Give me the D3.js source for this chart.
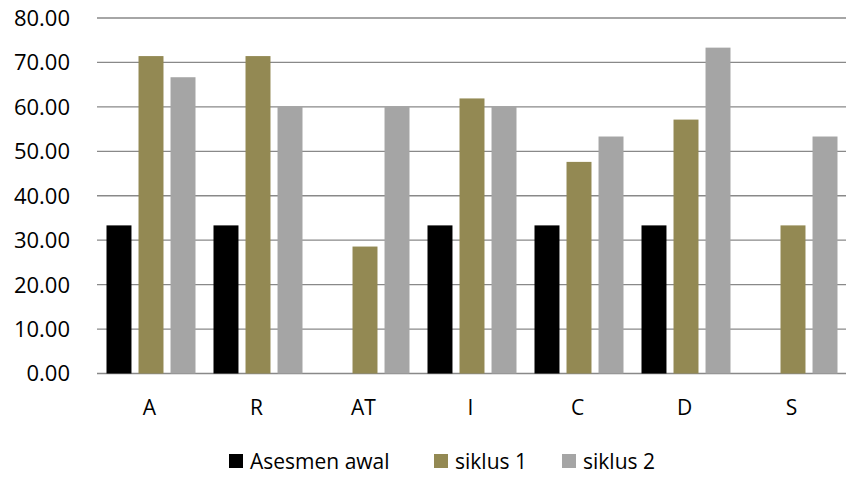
<!DOCTYPE html>
<html>
<head>
<meta charset="utf-8">
<script src="https://cdn.jsdelivr.net/npm/d3@7"></script>
<style>
  body { margin: 0; background: #fff; }
  text { font-family: "Open Sans", sans-serif; fill: #000; }
</style>
</head>
<body>
<div id="chart"></div>
<script>
var categories = ["A", "R", "AT", "I", "C", "D", "S"];
var seriesNames = ["Asesmen awal", "siklus 1", "siklus 2"];
var asesmenAwal = [33.33, 33.33, 0, 33.33, 33.33, 33.33, 0];
var siklus1 = [71.43, 71.43, 28.57, 61.90, 47.62, 57.14, 33.33];
var siklus2 = [66.67, 60.00, 60.00, 60.00, 53.33, 73.33, 53.33];
var yTicks = [0, 10, 20, 30, 40, 50, 60, 70, 80];
var colors = ["#000000", "#938953", "#a5a5a5"];

var allSeries = [asesmenAwal, siklus1, siklus2];

function draw_chart(element) {
    var svg = d3.select("#" + element).append("svg").attr("width", 846).attr("height", 477),
        margin = {top: 18, right: 0, bottom: 104, left: 97},
        width = +svg.attr("width") - margin.left - margin.right,
        height = +svg.attr("height") - margin.top - margin.bottom;

    var x0 = d3.scaleBand().domain(categories).range([0, width]);
    var x1 = d3.scaleBand().domain(seriesNames).range([9.5, 98.5]).paddingInner(0.22);
    var y = d3.scaleLinear().domain([0, 80]).range([height + 0.5, 0]);

    var g = svg.append("g")
        .attr("transform", "translate(" + margin.left + "," + margin.top + ")");

    // gridlines
    g.append("g")
        .selectAll("line")
        .data(yTicks)
        .enter().append("line")
        .attr("x1", 0)
        .attr("x2", width)
        .attr("y1", function (d) { return y(d); })
        .attr("y2", function (d) { return y(d); })
        .attr("stroke", "#898989")
        .attr("stroke-width", 1.3);

    // y labels
    g.append("g")
        .selectAll("text")
        .data(yTicks)
        .enter().append("text")
        .attr("x", -27)
        .attr("y", function (d) { return y(d); })
        .attr("dy", "0.36em")
        .attr("text-anchor", "end")
        .style("font-size", "22px")
        .text(function (d) { return d.toFixed(2); });

    // bars
    var groups = g.selectAll(".gr")
        .data(categories)
        .enter().append("g")
        .attr("class", "gr")
        .attr("transform", function (d) {
            return "translate(" + x0(d) + ",0)";
        });

    groups.selectAll("rect")
        .data(function (d, i) {
            return seriesNames.map(function (s, k) {
                return {s: s, k: k, v: allSeries[k][i]};
            });
        })
        .enter().append("rect")
        .attr("x", function (d) { return x1(d.s); })
        .attr("width", x1.bandwidth())
        .attr("y", function (d) { return y(d.v); })
        .attr("height", function (d) { return y(0) - y(d.v); })
        .attr("fill", function (d) { return colors[d.k]; });

    // category labels
    g.append("g")
        .selectAll("text")
        .data(categories)
        .enter().append("text")
        .attr("x", function (d) { return x0(d) + x0.bandwidth() / 2 - 1; })
        .attr("y", height + 42)
        .attr("text-anchor", "middle")
        .style("font-size", "21px")
        .text(function (d) { return d; });

    // legend
    var legendX = [229, 434, 562];
    var legend = svg.append("g");
    var items = legend.selectAll("g")
        .data(seriesNames)
        .enter().append("g")
        .attr("transform", function (d, i) {
            return "translate(" + legendX[i] + ",454)";
        });
    items.append("rect")
        .attr("width", 14)
        .attr("height", 14)
        .attr("fill", function (d, i) { return colors[i]; });
    items.append("text")
        .attr("x", 21)
        .attr("y", 7)
        .attr("dy", "0.36em")
        .style("font-size", "21px")
        .text(function (d) { return d; });
}

draw_chart("chart");
</script>
</body>
</html>
